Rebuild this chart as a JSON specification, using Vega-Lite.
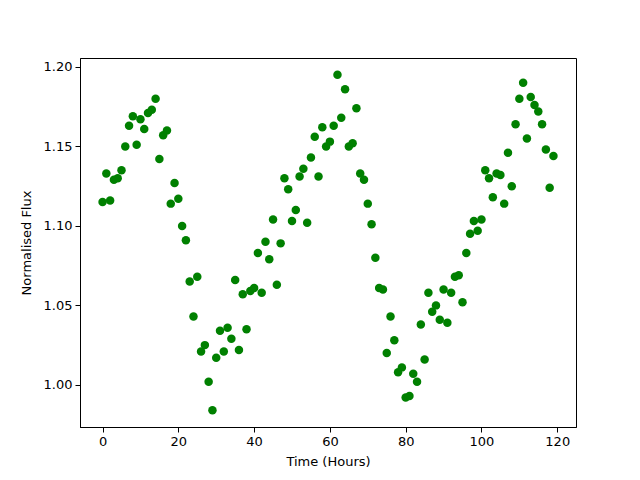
{
  "$schema": "https://vega.github.io/schema/vega-lite/v6.json",
  "width": 496,
  "height": 369,
  "autosize": {"type": "none"},
  "padding": {"left": 80, "top": 58, "right": 64, "bottom": 53},
  "background": "white",
  "config": {
    "view": {"stroke": "black", "strokeWidth": 1},
    "font": "DejaVu Sans"
  },
  "data": {
    "values": [
      {"t":0,"f":1.115},{"t":1,"f":1.133},{"t":2,"f":1.116},{"t":3,"f":1.129},{"t":4,"f":1.130},
      {"t":5,"f":1.135},{"t":6,"f":1.150},{"t":7,"f":1.163},{"t":8,"f":1.169},{"t":9,"f":1.151},
      {"t":10,"f":1.167},{"t":11,"f":1.161},{"t":12,"f":1.171},{"t":13,"f":1.173},{"t":14,"f":1.180},
      {"t":15,"f":1.142},{"t":16,"f":1.157},{"t":17,"f":1.160},{"t":18,"f":1.114},{"t":19,"f":1.127},
      {"t":20,"f":1.117},{"t":21,"f":1.100},{"t":22,"f":1.091},{"t":23,"f":1.065},{"t":24,"f":1.043},
      {"t":25,"f":1.068},{"t":26,"f":1.021},{"t":27,"f":1.025},{"t":28,"f":1.002},{"t":29,"f":0.984},
      {"t":30,"f":1.017},{"t":31,"f":1.034},{"t":32,"f":1.021},{"t":33,"f":1.036},{"t":34,"f":1.029},
      {"t":35,"f":1.066},{"t":36,"f":1.022},{"t":37,"f":1.057},{"t":38,"f":1.035},{"t":39,"f":1.059},
      {"t":40,"f":1.061},{"t":41,"f":1.083},{"t":42,"f":1.058},{"t":43,"f":1.090},{"t":44,"f":1.079},
      {"t":45,"f":1.104},{"t":46,"f":1.063},{"t":47,"f":1.089},{"t":48,"f":1.130},{"t":49,"f":1.123},
      {"t":50,"f":1.103},{"t":51,"f":1.110},{"t":52,"f":1.131},{"t":53,"f":1.136},{"t":54,"f":1.102},
      {"t":55,"f":1.143},{"t":56,"f":1.156},{"t":57,"f":1.131},{"t":58,"f":1.162},{"t":59,"f":1.150},
      {"t":60,"f":1.153},{"t":61,"f":1.163},{"t":62,"f":1.195},{"t":63,"f":1.168},{"t":64,"f":1.186},
      {"t":65,"f":1.150},{"t":66,"f":1.152},{"t":67,"f":1.174},{"t":68,"f":1.133},{"t":69,"f":1.129},
      {"t":70,"f":1.114},{"t":71,"f":1.101},{"t":72,"f":1.080},{"t":73,"f":1.061},{"t":74,"f":1.060},
      {"t":75,"f":1.020},{"t":76,"f":1.043},{"t":77,"f":1.028},{"t":78,"f":1.008},{"t":79,"f":1.011},
      {"t":80,"f":0.992},{"t":81,"f":0.993},{"t":82,"f":1.007},{"t":83,"f":1.002},{"t":84,"f":1.038},
      {"t":85,"f":1.016},{"t":86,"f":1.058},{"t":87,"f":1.046},{"t":88,"f":1.050},{"t":89,"f":1.041},
      {"t":90,"f":1.060},{"t":91,"f":1.039},{"t":92,"f":1.058},{"t":93,"f":1.068},{"t":94,"f":1.069},
      {"t":95,"f":1.052},{"t":96,"f":1.083},{"t":97,"f":1.095},{"t":98,"f":1.103},{"t":99,"f":1.097},
      {"t":100,"f":1.104},{"t":101,"f":1.135},{"t":102,"f":1.130},{"t":103,"f":1.118},{"t":104,"f":1.133},
      {"t":105,"f":1.132},{"t":106,"f":1.114},{"t":107,"f":1.146},{"t":108,"f":1.125},{"t":109,"f":1.164},
      {"t":110,"f":1.180},{"t":111,"f":1.190},{"t":112,"f":1.155},{"t":113,"f":1.181},{"t":114,"f":1.176},
      {"t":115,"f":1.172},{"t":116,"f":1.164},{"t":117,"f":1.148},{"t":118,"f":1.124},{"t":119,"f":1.144}
    ]
  },
  "mark": {"type": "point", "filled": true, "shape": "circle", "size": 72, "color": "#008000", "opacity": 1},
  "encoding": {
    "x": {
      "field": "t", "type": "quantitative",
      "scale": {"domain": [-5.95, 124.95], "nice": false, "zero": false},
      "axis": {
        "title": "Time (Hours)", "values": [0, 20, 40, 60, 80, 100, 120], "format": "d",
        "grid": false, "domainColor": "black", "tickColor": "black", "tickSize": 5,
        "labelColor": "black", "labelFontSize": 13, "labelPadding": 3, "labelFont": "DejaVu Sans",
        "titleColor": "black", "titleFontSize": 13, "titleFontWeight": "normal", "titlePadding": 7, "titleFont": "DejaVu Sans"
      }
    },
    "y": {
      "field": "f", "type": "quantitative",
      "scale": {"domain": [0.9735, 1.2056], "nice": false, "zero": false},
      "axis": {
        "title": "Normalised Flux", "values": [1.0, 1.05, 1.1, 1.15, 1.2], "format": ".2f",
        "grid": false, "domainColor": "black", "tickColor": "black", "tickSize": 5,
        "labelColor": "black", "labelFontSize": 13, "labelPadding": 3, "labelFont": "DejaVu Sans",
        "titleColor": "black", "titleFontSize": 13, "titleFontWeight": "normal", "titlePadding": 10, "titleFont": "DejaVu Sans"
      }
    }
  }
}
